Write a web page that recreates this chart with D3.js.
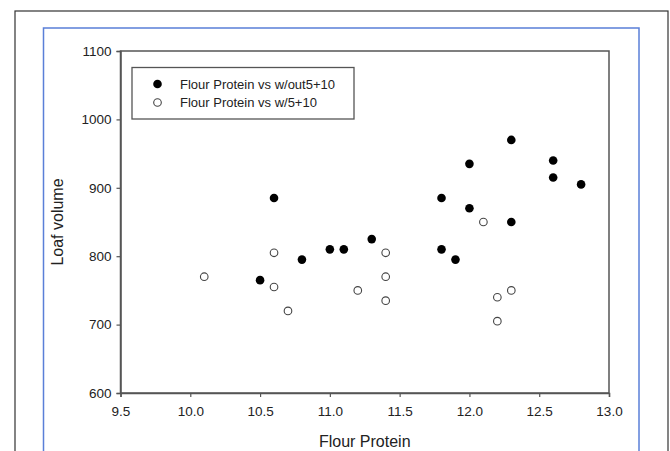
<!DOCTYPE html>
<html>
<head>
<meta charset="utf-8">
<script src="https://cdn.jsdelivr.net/npm/d3@7"></script>
<style>
  body { margin: 0; background: #fff; }
  text { font-family: "Liberation Sans", Arial, sans-serif; fill: #222; }
</style>
</head>
<body>
<div id="chart"></div>
<script>
// data
const withoutProtein = [10.5, 10.6, 10.8, 11.0, 11.1, 11.3, 11.8, 11.8, 11.9, 12.0, 12.0, 12.3, 12.3, 12.6, 12.6, 12.8];
const withoutVolume  = [765, 885, 795, 810, 810, 825, 885, 810, 795, 935, 870, 970, 850, 940, 915, 905];

const withProtein = [10.1, 10.6, 10.6, 10.7, 11.2, 11.4, 11.4, 11.4, 12.1, 12.2, 12.2, 12.3];
const withVolume  = [770, 805, 755, 720, 750, 805, 770, 735, 850, 740, 705, 750];

const xTicks = [9.5, 10.0, 10.5, 11.0, 11.5, 12.0, 12.5, 13.0];
const yTicks = [600, 700, 800, 900, 1000, 1100];

const seriesNames = ["Flour Protein vs w/out5+10", "Flour Protein vs w/5+10"];

const width = 670, height = 451;
const margin = {top: 51, right: 61, bottom: 58, left: 120.5};

const svg = d3.select("#chart").append("svg")
    .attr("width", width)
    .attr("height", height);

// outer frames
svg.append("rect")
    .attr("x", 15).attr("y", 11)
    .attr("width", 653).attr("height", 460)
    .attr("fill", "none").attr("stroke", "#333").attr("stroke-width", 1.2);

svg.append("rect")
    .attr("x", 43.5).attr("y", 28)
    .attr("width", 595.5).attr("height", 440)
    .attr("fill", "none").attr("stroke", "#5a7fd8").attr("stroke-width", 1.5);

const x = d3.scaleLinear().domain([9.5, 13.0]).range([margin.left, width - margin.right]);
const y = d3.scaleLinear().domain([600, 1100]).range([height - margin.bottom, margin.top]);

// plot frame
svg.append("rect")
    .attr("x", x(9.5)).attr("y", y(1100))
    .attr("width", x(13) - x(9.5)).attr("height", y(600) - y(1100))
    .attr("fill", "none").attr("stroke", "#555").attr("stroke-width", 1.5);

const xAxis = svg.append("g")
    .attr("transform", `translate(0,${y(600)})`)
    .call(d3.axisBottom(x).tickValues(xTicks).tickFormat(d3.format(".1f")).tickSize(4).tickPadding(9));

const yAxis = svg.append("g")
    .attr("transform", `translate(${x(9.5)},0)`)
    .call(d3.axisLeft(y).tickValues(yTicks).tickFormat(d3.format("d")).tickSize(4).tickPadding(5));

[xAxis, yAxis].forEach(a => {
  a.attr("font-size", 13.5).attr("font-family", "Liberation Sans, Arial, sans-serif");
  a.select(".domain").attr("stroke", "#555").attr("stroke-width", 1.5);
  a.selectAll(".tick line").attr("stroke", "#555").attr("stroke-width", 1.2);
  a.selectAll(".tick text").attr("fill", "#222");
});

// axis titles
svg.append("text")
    .attr("x", (x(9.5) + x(13)) / 2).attr("y", 447)
    .attr("text-anchor", "middle").attr("font-size", 16)
    .text("Flour Protein");

svg.append("text")
    .attr("transform", `translate(63,${(y(600) + y(1100)) / 2}) rotate(-90)`)
    .attr("text-anchor", "middle").attr("font-size", 16)
    .text("Loaf volume");

// points
const r = 4.3;
svg.append("g").selectAll("circle")
  .data(withoutProtein.map((p, i) => [p, withoutVolume[i]]))
  .join("circle")
    .attr("cx", d => x(d[0]))
    .attr("cy", d => y(d[1]))
    .attr("r", r)
    .attr("fill", "#000");

svg.append("g").selectAll("circle")
  .data(withProtein.map((p, i) => [p, withVolume[i]]))
  .join("circle")
    .attr("cx", d => x(d[0]))
    .attr("cy", d => y(d[1]))
    .attr("r", r - 0.5)
    .attr("fill", "#fff")
    .attr("stroke", "#444")
    .attr("stroke-width", 1.1);

// legend
const legend = svg.append("g");
legend.append("rect")
    .attr("x", 132).attr("y", 67.5)
    .attr("width", 222).attr("height", 51.5)
    .attr("fill", "#fff").attr("stroke", "#555").attr("stroke-width", 1.3);

seriesNames.forEach((name, i) => {
  const ly = 84 + i * 18.5;
  const c = legend.append("circle").attr("cx", 157.5).attr("cy", ly).attr("r", i === 0 ? r : r - 0.5);
  if (i === 0) c.attr("fill", "#000");
  else c.attr("fill", "#fff").attr("stroke", "#444").attr("stroke-width", 1.1);
  legend.append("text")
      .attr("x", 180).attr("y", ly + 4.6)
      .attr("font-size", 13)
      .text(name);
});
</script>
</body>
</html>
